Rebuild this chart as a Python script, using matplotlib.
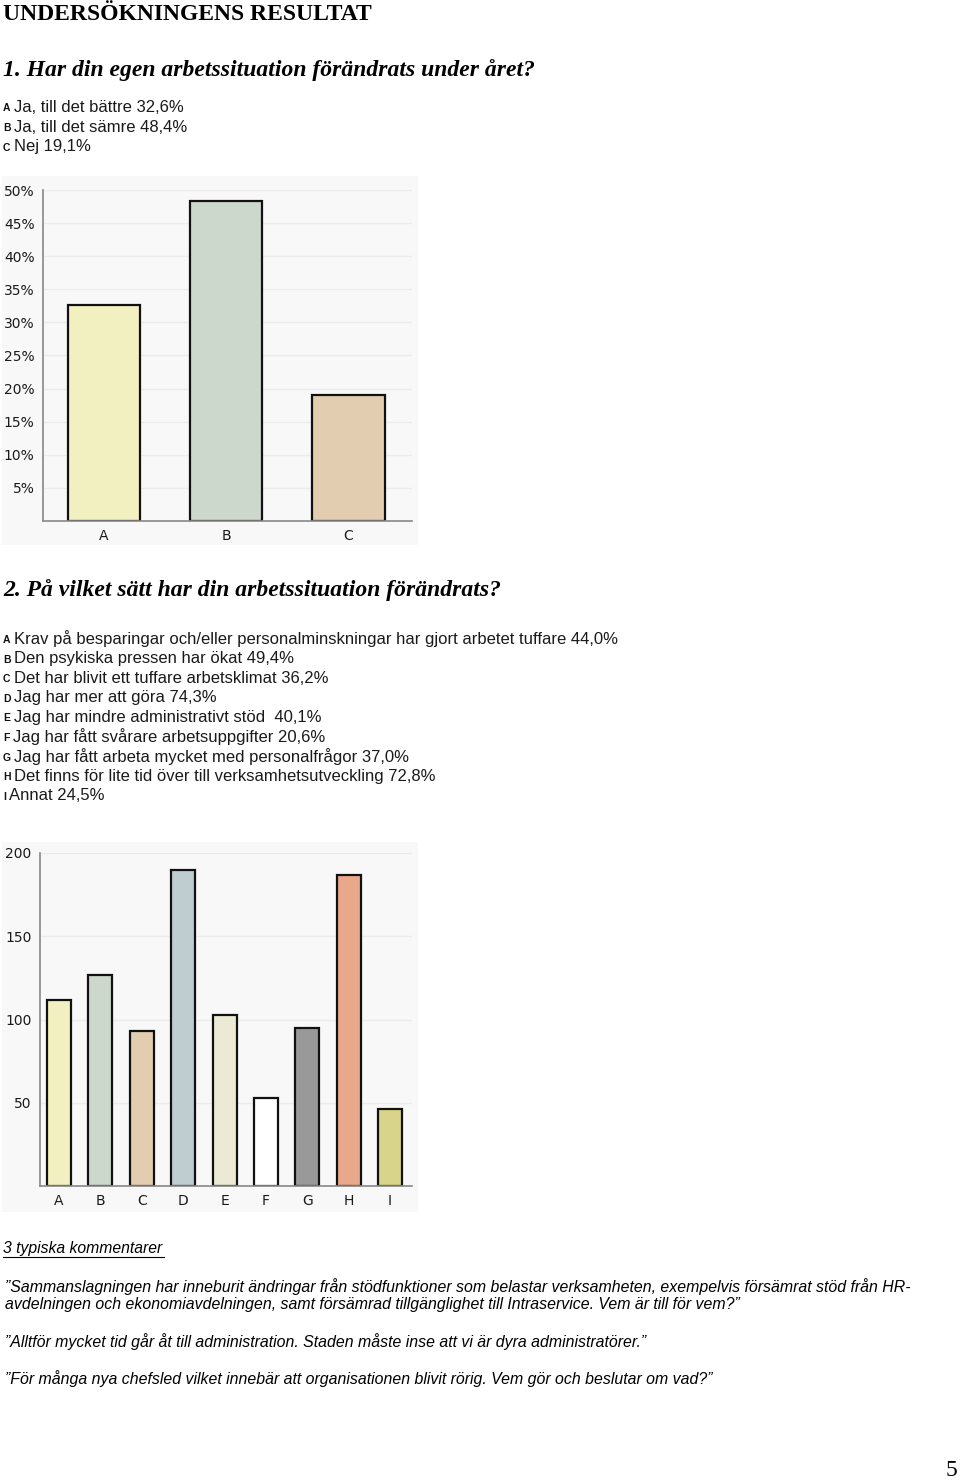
import matplotlib
matplotlib.use("Agg")
import matplotlib.pyplot as plt

# data
q1_labels = ["A", "B", "C"]
q1_values = [32.6, 48.4, 19.1]
q1_text = ["Ja, till det bättre 32,6%", "Ja, till det sämre 48,4%", "Nej 19,1%"]
q1_colors = ["#f2efc0", "#cdd8cd", "#e3cdb0"]
q1_ticks = [5, 10, 15, 20, 25, 30, 35, 40, 45, 50]

q2_labels = ["A", "B", "C", "D", "E", "F", "G", "H", "I"]
q2_values = [112, 127, 93, 190, 103, 53, 95, 187, 46]
q2_text = [
    "Krav på besparingar och/eller personalminskningar har gjort arbetet tuffare 44,0%",
    "Den psykiska pressen har ökat 49,4%",
    "Det har blivit ett tuffare arbetsklimat 36,2%",
    "Jag har mer att göra 74,3%",
    "Jag har mindre administrativt stöd  40,1%",
    "Jag har fått svårare arbetsuppgifter 20,6%",
    "Jag har fått arbeta mycket med personalfrågor 37,0%",
    "Det finns för lite tid över till verksamhetsutveckling 72,8%",
    "Annat 24,5%",
]
q2_colors = ["#f2efc0", "#cdd8cd", "#e3cdb0", "#bfcdd0", "#ecead5",
             "#ffffff", "#999999", "#eaa88a", "#d8d48a"]
q2_ticks = [50, 100, 150, 200]

comments = [
    ["\u201dSammanslagningen har inneburit ändringar från stödfunktioner som belastar verksamheten, exempelvis försämrat stöd från HR-",
     "avdelningen och ekonomiavdelningen, samt försämrad tillgänglighet till Intraservice. Vem är till för vem?\u201d"],
    ["\u201dAlltför mycket tid går åt till administration. Staden måste inse att vi är dyra administratörer.\u201d"],
    ["\u201dFör många nya chefsled vilket innebär att organisationen blivit rörig. Vem gör och beslutar om vad?\u201d"],
]

W, H = 960, 1482
fig = plt.figure(figsize=(W / 100, H / 100), dpi=100)
fig.patch.set_facecolor("white")
renderer = fig.canvas.get_renderer()

serif = ["Liberation Serif", "DejaVu Serif"]
sans = ["Liberation Sans", "DejaVu Sans"]


def tx(x, y, s, **kw):
    return fig.text(x / W, 1 - y / H, s, va="center", ha=kw.pop("ha", "left"), **kw)


def box(x0, y0, x1, y1):
    return [x0 / W, 1 - y1 / H, (x1 - x0) / W, (y1 - y0) / H]


def option(y, lab, s):
    t = tx(3, y + 1, lab, fontsize=7.5, fontweight="bold", family=sans, color="#111111")
    x1 = t.get_window_extent(renderer).x1
    tx(x1 + 3.5, y, s, fontsize=12, family=sans, color="#1a1a1a")


def bar_chart(bg, ax_box, labels, values, colors, ticks, ymax, xlim, width, fmt):
    back = fig.add_axes(box(*bg))
    back.set_facecolor("#f8f8f8")
    back.set_xticks([])
    back.set_yticks([])
    for s in back.spines.values():
        s.set_visible(False)
    ax = fig.add_axes(box(*ax_box))
    ax.set_facecolor("none")
    for t in ticks:
        ax.axhline(t, color="#ebebeb", lw=1, zorder=0)
    x = range(len(values))
    ax.bar(x, values, width=width, color=colors, edgecolor="#111111", linewidth=1.6, zorder=2)
    ax.set_xlim(*xlim)
    ax.set_ylim(0, ymax)
    ax.set_xticks(list(x))
    ax.set_xticklabels(labels, fontsize=10, family="DejaVu Sans", color="#1a1a1a")
    ax.set_yticks(ticks)
    ax.set_yticklabels([fmt.format(t) for t in ticks], fontsize=10,
                       family="DejaVu Sans", color="#1a1a1a")
    ax.tick_params(length=0, pad=6)
    for s in ["top", "right"]:
        ax.spines[s].set_visible(False)
    for s in ["left", "bottom"]:
        ax.spines[s].set_color("#888888")
        ax.spines[s].set_linewidth(1.2)
    return ax


# headings
tx(3, 14, "UNDERSÖKNINGENS RESULTAT", fontsize=17, fontweight="bold", family=serif)
tx(3, 70, "1. Har din egen arbetssituation förändrats under året?", fontsize=17,
   fontweight="bold", style="italic", family=serif)

for i, (lab, s) in enumerate(zip(q1_labels, q1_text)):
    option(107 + 20 * i, lab, s)

bar_chart((2, 176, 418, 545), (43, 190, 412, 521), q1_labels, q1_values, q1_colors,
          q1_ticks, 50, (-0.5, 2.52), 0.59, "{}%")

tx(3, 590, "2. På vilket sätt har din arbetssituation förändrats?", fontsize=17,
   fontweight="bold", style="italic", family=serif)

for i, (lab, s) in enumerate(zip(q2_labels, q2_text)):
    option(639 + 19.6 * i, lab, s)

bar_chart((2, 842, 418, 1212), (40, 853, 412, 1186), q2_labels, q2_values, q2_colors,
          q2_ticks, 200, (-0.46, 8.53), 0.58, "{}")

# comments
tx(3, 1249, "3 typiska kommentarer", fontsize=11.3, style="italic", family=sans)
fig.add_artist(plt.Line2D([3 / W, 164 / W], [1 - 1257 / H] * 2, color="black", lw=0.8))

ys = [[1287, 1305], [1342], [1379]]
for lines, yl in zip(comments, ys):
    for s, y in zip(lines, yl):
        tx(5, y, s, fontsize=11.4, style="italic", family=sans)

tx(957, 1470, "5", fontsize=17, family=serif, ha="right")

fig.savefig("out.png", dpi=100)
